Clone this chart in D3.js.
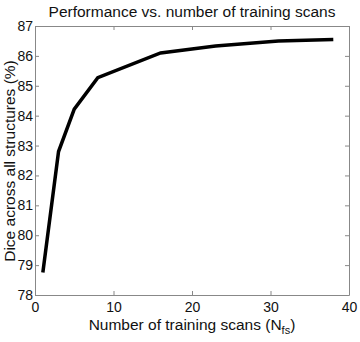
<!DOCTYPE html>
<html>
<head>
<meta charset="utf-8">
<script src="https://cdn.jsdelivr.net/npm/d3@7"></script>
<style>
  body { margin: 0; background: #fff; }
  text { font-family: "Liberation Sans", Arial, sans-serif; fill: #111; }
</style>
</head>
<body>
<div id="chart"></div>
<script>
// data
const scans = [1, 3, 5, 8, 16, 23, 31, 38];
const dice = [78.75, 82.8, 84.22, 85.27, 86.1, 86.33, 86.5, 86.55];
const xTicks = [0, 10, 20, 30, 40];
const yTicks = [78, 79, 80, 81, 82, 83, 84, 85, 86, 87];

const width = 360;
const height = 342;
const margin = { top: 26, right: 11, bottom: 47, left: 35 };

const svg = d3.select("#chart")
    .append("svg")
    .attr("width", width)
    .attr("height", height);

const x = d3.scaleLinear().domain([0, 40]).range([margin.left, width - margin.right]);
const y = d3.scaleLinear().domain([78, 87]).range([height - margin.bottom, margin.top]);

const tickLen = 4;
const axisColor = "#888";

//axes (matlab-style box with inward ticks)
const gBottom = svg.append("g")
    .attr("transform", `translate(0,${y(78)})`)
    .call(d3.axisBottom(x).tickValues(xTicks).tickSizeInner(-tickLen).tickSizeOuter(0).tickPadding(7));
const gTop = svg.append("g")
    .attr("transform", `translate(0,${y(87)})`)
    .call(d3.axisTop(x).tickValues(xTicks).tickSizeInner(-tickLen).tickSizeOuter(0).tickFormat(""));
const gLeft = svg.append("g")
    .attr("transform", `translate(${x(0)},0)`)
    .call(d3.axisLeft(y).tickValues(yTicks).tickSizeInner(-tickLen).tickSizeOuter(0).tickPadding(2));
const gRight = svg.append("g")
    .attr("transform", `translate(${x(40)},0)`)
    .call(d3.axisRight(y).tickValues(yTicks).tickSizeInner(-tickLen).tickSizeOuter(0).tickFormat(""));

[gBottom, gTop, gLeft, gRight].forEach((g) => {
  g.selectAll(".domain").attr("stroke", axisColor);
  g.selectAll(".tick line").attr("stroke", axisColor);
  g.selectAll(".tick text")
      .style("font-family", "'Liberation Sans', Arial, sans-serif")
      .attr("font-size", 14)
      .attr("fill", "#111");
});

//line
const line = d3.line()
    .x((d, i) => x(scans[i]))
    .y((d) => y(d));

svg.append("path")
    .datum(dice)
    .attr("fill", "none")
    .attr("stroke", "#000")
    .attr("stroke-width", 3.5)
    .attr("stroke-linejoin", "miter")
    .attr("d", line);

//title
svg.append("text")
    .attr("x", 192)
    .attr("y", 17)
    .attr("text-anchor", "middle")
    .attr("font-size", 15.5)
    .text("Performance vs. number of training scans");

//x label
const xLabel = svg.append("text")
    .attr("x", 192)
    .attr("y", 330)
    .attr("text-anchor", "middle")
    .attr("font-size", 15.5);
xLabel.append("tspan").text("Number of training scans (N");
xLabel.append("tspan").attr("font-size", 11).attr("dy", 4).text("fs");
xLabel.append("tspan").attr("dy", -4).text(")");

//y label
svg.append("text")
    .attr("transform", `translate(15,161)rotate(-90)`)
    .attr("text-anchor", "middle")
    .attr("font-size", 15.5)
    .text("Dice across all structures (%)");
</script>
</body>
</html>
